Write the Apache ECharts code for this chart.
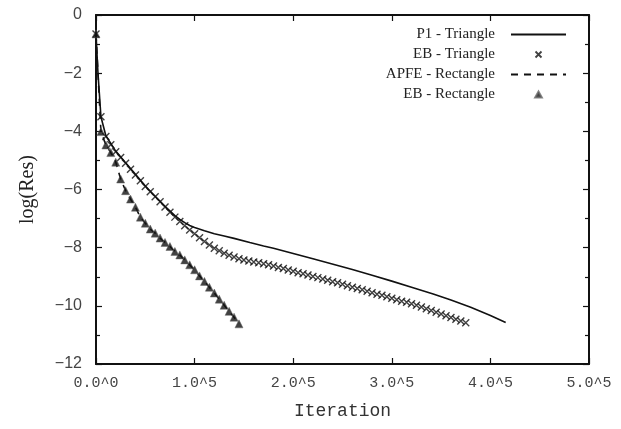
<!DOCTYPE html>
<html><head><meta charset="utf-8">
<script src="https://cdn.jsdelivr.net/npm/echarts@6/dist/echarts.min.js"></script>
<style>html,body{margin:0;padding:0;background:#fff}#c{width:621px;height:429px}</style>
</head><body><div id="c"></div>
<script>
// P1 - Triangle (solid line)
const p1X = [0, 2000, 5000, 10000, 20000, 30000, 40000, 50000, 60000, 70000, 80000, 85000, 90000, 95000, 100000, 110000, 120000, 130000, 140000, 156000, 170000, 180000, 200000, 220000, 247000, 260000, 280000, 300000, 320000, 342000, 360000, 380000, 400000, 415500];
const p1Y = [-0.65, -2.0, -3.5, -4.15, -4.68, -5.08, -5.48, -5.88, -6.23, -6.58, -6.90, -7.03, -7.14, -7.24, -7.31, -7.42, -7.52, -7.60, -7.68, -7.82, -7.94, -8.02, -8.20, -8.38, -8.63, -8.75, -8.95, -9.15, -9.36, -9.59, -9.80, -10.05, -10.33, -10.57];
// EB - Triangle (crosses)
const ebTriX = [0,5000,10000,15000,20000,25000,30000,35000,40000,45000,50000,55000,60000,65000,70000,75000,80000,85000,90000,95000,
  100000,105000,110000,115000,120000,125000,130000,135000,140000,145000,150000,155000,160000,165000,170000,175000,180000,185000,190000,195000,
  200000,205000,210000,215000,220000,225000,230000,235000,240000,245000,250000,255000,260000,265000,270000,275000,280000,285000,290000,295000,
  300000,305000,310000,315000,320000,325000,330000,335000,340000,345000,350000,355000,360000,365000,370000,375000];
const ebTriY = [-0.65,-3.50,-4.18,-4.46,-4.70,-4.90,-5.10,-5.30,-5.50,-5.70,-5.90,-6.08,-6.25,-6.42,-6.60,-6.78,-6.95,-7.10,-7.25,-7.39,
  -7.52,-7.66,-7.79,-7.91,-8.02,-8.11,-8.19,-8.26,-8.32,-8.38,-8.42,-8.46,-8.49,-8.52,-8.55,-8.59,-8.63,-8.68,-8.72,-8.77,
  -8.81,-8.86,-8.90,-8.94,-8.99,-9.03,-9.08,-9.12,-9.17,-9.21,-9.26,-9.31,-9.36,-9.40,-9.45,-9.50,-9.55,-9.60,-9.64,-9.69,
  -9.74,-9.79,-9.84,-9.88,-9.93,-9.98,-10.04,-10.10,-10.16,-10.22,-10.28,-10.34,-10.40,-10.46,-10.52,-10.58];
// APFE - Rectangle (dashed line)
const apfeX = [0,5000,10000,15000,20000,25000,30000,35000,40000,45000,50000,55000,60000,65000,70000,75000,80000,85000,90000,95000,100000,105000,110000,115000,120000,125000,130000,135000,140000,145000];
const apfeY = [-0.65,-4.01,-4.47,-4.73,-5.06,-5.64,-6.04,-6.33,-6.61,-6.95,-7.16,-7.36,-7.50,-7.67,-7.82,-7.96,-8.13,-8.25,-8.42,-8.59,-8.76,-8.97,-9.16,-9.36,-9.56,-9.77,-9.98,-10.19,-10.39,-10.62];
// EB - Rectangle (triangles)
const ebRectX = [0,5000,10000,15000,20000,25000,30000,35000,40000,45000,50000,55000,60000,65000,70000,75000,80000,85000,90000,95000,100000,105000,110000,115000,120000,125000,130000,135000,140000,145000];
const ebRectY = [-0.65,-4.01,-4.47,-4.73,-5.06,-5.64,-6.04,-6.33,-6.61,-6.95,-7.16,-7.36,-7.50,-7.67,-7.82,-7.96,-8.13,-8.25,-8.42,-8.59,-8.76,-8.97,-9.16,-9.36,-9.56,-9.77,-9.98,-10.19,-10.39,-10.62];
const seriesNames = ['P1 - Triangle', 'EB - Triangle', 'APFE - Rectangle', 'EB - Rectangle'];
const xTickLabels = ['0.0^0', '1.0^5', '2.0^5', '3.0^5', '4.0^5', '5.0^5'];

const zip = (xs, ys) => xs.map((x, i) => [x, ys[i]]);
const crossPath = 'path://M0,0L10,10M10,0L0,10';
const triPath = 'path://M5,0L10,9L0,9Z';
const axisCommon = {
  axisLine: {show: true, onZero: false, lineStyle: {color: '#111', width: 2}},
  axisTick: {show: true, inside: true, length: 6, lineStyle: {color: '#111', width: 1.2}},
  splitLine: {show: false}
};
const chart = echarts.init(document.getElementById('c'), null, {renderer: 'canvas'});
chart.setOption({
  animation: false,
  backgroundColor: '#fff',
  grid: {left: 96, top: 15, right: 32, bottom: 65, containLabel: false},
  xAxis: [
    Object.assign({type: 'value', min: 0, max: 500000, interval: 100000, position: 'bottom',
      name: 'Iteration', nameLocation: 'middle', nameGap: 38,
      nameTextStyle: {fontFamily: 'Liberation Mono', fontSize: 18, color: '#333'},
      axisLabel: {margin: 12, fontFamily: 'Liberation Mono', fontSize: 15, color: '#444',
        formatter: (v) => xTickLabels[Math.round(v / 100000)]}}, axisCommon),
    Object.assign({type: 'value', min: 0, max: 500000, interval: 100000, position: 'top',
      axisLabel: {show: false}}, axisCommon)
  ],
  yAxis: [
    Object.assign({type: 'value', min: -12, max: 0, interval: 2, position: 'left',
      name: 'log(Res)', nameLocation: 'middle', nameGap: 58, nameRotate: 90,
      nameTextStyle: {fontFamily: 'Liberation Serif', fontSize: 20, color: '#222'},
      minorTick: {show: true, splitNumber: 2, length: 4, lineStyle: {color: '#111', width: 1.2}},
      axisLabel: {margin: 14, fontFamily: 'Liberation Sans', fontSize: 16, color: '#444',
        formatter: (v) => v === 0 ? '0' : '\u2212' + Math.abs(v)}}, axisCommon),
    Object.assign({type: 'value', min: -12, max: 0, interval: 2, position: 'right',
      minorTick: {show: true, splitNumber: 2, length: 4, lineStyle: {color: '#111', width: 1.2}},
      axisLabel: {show: false}}, axisCommon)
  ],
  legend: {
    orient: 'vertical', right: 49, top: 22, align: 'right', itemGap: 5,
    itemWidth: 55, itemHeight: 6,
    textStyle: {fontFamily: 'Liberation Serif', fontSize: 15, color: '#222', width: 150, align: 'right', padding: [0, 11, 0, 0]},
    data: [
      {name: seriesNames[0], itemStyle: {color: 'transparent', borderWidth: 0, opacity: 0}},
      {name: seriesNames[1], icon: crossPath, itemStyle: {color: 'none', borderColor: '#111', borderWidth: 1.8}},
      {name: seriesNames[2], itemStyle: {color: 'transparent', borderWidth: 0, opacity: 0}},
      {name: seriesNames[3], icon: triPath, itemStyle: {color: '#111'}}
    ]
  },
  series: [
    {name: seriesNames[0], type: 'line', data: zip(p1X, p1Y), showSymbol: false, symbol: 'none',
      lineStyle: {color: '#111', width: 1.6}, itemStyle: {color: '#111'}, z: 2},
    {name: seriesNames[1], type: 'scatter', data: zip(ebTriX, ebTriY), symbol: crossPath, symbolSize: 7,
      itemStyle: {color: 'none', borderColor: '#111', borderWidth: 1.4}, z: 3},
    {name: seriesNames[2], type: 'line', data: zip(apfeX, apfeY), showSymbol: false, symbol: 'none',
      lineStyle: {color: '#111', width: 1.6, type: [7, 6]}, itemStyle: {color: '#111'}, z: 2},
    {name: seriesNames[3], type: 'scatter', data: zip(ebRectX, ebRectY), symbol: 'triangle', symbolSize: [8, 8],
      itemStyle: {color: '#111', borderColor: '#666', borderWidth: 0.6}, z: 4}
  ]
});
</script></body></html>
